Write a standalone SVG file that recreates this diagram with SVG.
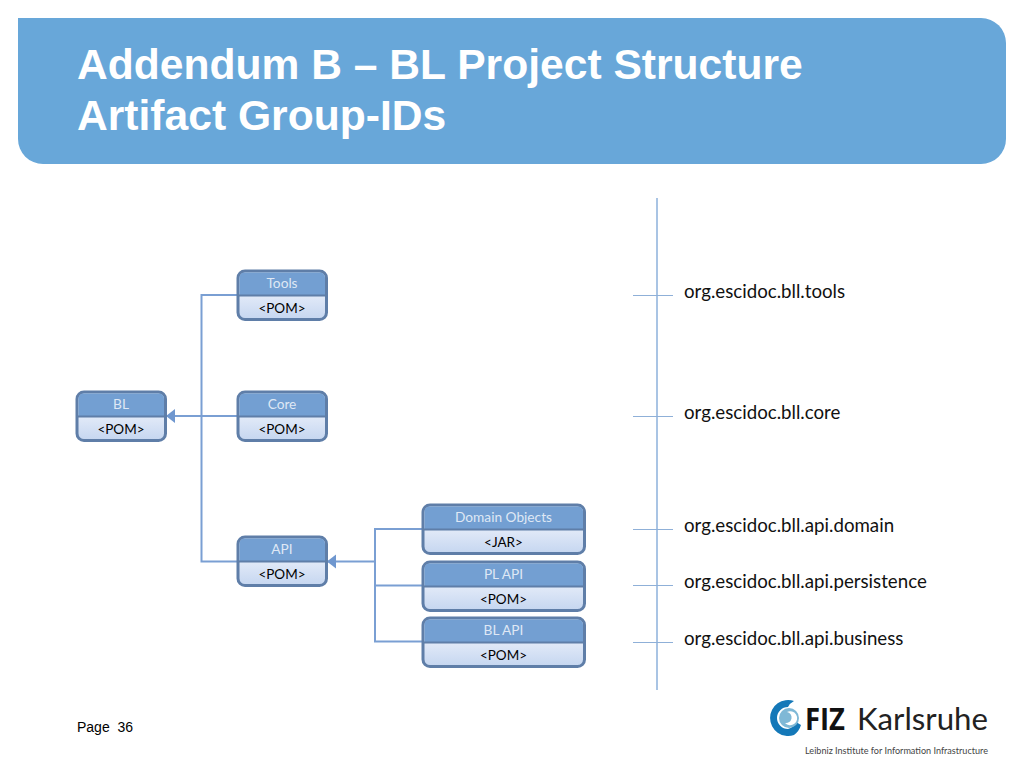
<svg xmlns="http://www.w3.org/2000/svg" width="1024" height="768" viewBox="0 0 1024 768">
<style>
.title{font:bold 42.600px "Liberation Sans",Arial,sans-serif;fill:#fff}
.h{font:13.700px Lato,sans-serif;fill:#dfe8f5;text-anchor:middle}
.b{font:13.500px Lato,sans-serif;fill:#000;text-anchor:middle}
.id{font:18.700px Lato,sans-serif;fill:#111}
.box{fill:url(#g);stroke:#5f7ea8;stroke-width:3}
.top{fill:#739fd2}
.div{stroke:#5f7ea8;stroke-width:2}
.c{fill:none;stroke:#7a9fd3;stroke-width:2}
.t{fill:none;stroke:#8fb0d8;stroke-width:1.200}
.v{fill:none;stroke:#a9c4e4;stroke-width:2}
</style>
<defs>
<linearGradient id="g" x1="0" y1="0" x2="0" y2="1"><stop offset="0.5" stop-color="#e2eaf8"/><stop offset="1" stop-color="#c5d6f0"/></linearGradient>
<marker id="a" markerUnits="userSpaceOnUse" markerWidth="10" markerHeight="16" refX="9" refY="8" orient="auto"><path d="M0 1L9 8L0 15z" fill="#6f97cf"/></marker>
</defs>
<path id="banner" d="M18 18H981a25 25 0 0 1 25 25V139a25 25 0 0 1-25 25H43a25 25 0 0 1-25-25z" fill="#68a7d9"/>
<text class="title" x="77" y="78.500">Addendum B – BL Project Structure</text>
<text class="title" x="77" y="129.500">Artifact Group-IDs</text>
<g id="connectors">
<path class="c" d="M237 295H201.500V561.500H237"/>
<path class="c" d="M237 416H166" marker-end="url(#a)"/>
<path class="c" d="M422 529H375V641.500H422M422 585.500H375"/>
<path class="c" d="M375 561.500H327" marker-end="url(#a)"/>
</g>
<g id="node-tools"><rect class="box" x="238" y="271" width="88.500" height="48.500" rx="7"/><path class="top" d="M239.500 295V277.500a5 5 0 0 1 5-5h75.500a5 5 0 0 1 5 5V295z"/><path class="div" d="M237 295.500H327"/><text class="h" x="282" y="288">Tools</text><text class="b" x="282" y="313">&lt;POM&gt;</text></g>
<g id="node-core"><rect class="box" x="238" y="392" width="88.500" height="48.500" rx="7"/><path class="top" d="M239.500 416V398.500a5 5 0 0 1 5-5h75.500a5 5 0 0 1 5 5V416z"/><path class="div" d="M237 416.500H327"/><text class="h" x="282" y="409">Core</text><text class="b" x="282" y="434">&lt;POM&gt;</text></g>
<g id="node-bl"><rect class="box" x="77" y="392" width="88.500" height="48.500" rx="7"/><path class="top" d="M78.500 416V398.500a5 5 0 0 1 5-5h75.500a5 5 0 0 1 5 5V416z"/><path class="div" d="M76 416.500H166"/><text class="h" x="121" y="409">BL</text><text class="b" x="121" y="434">&lt;POM&gt;</text></g>
<g id="node-api"><rect class="box" x="238" y="537" width="88.500" height="48.500" rx="7"/><path class="top" d="M239.500 561V543.500a5 5 0 0 1 5-5h75.500a5 5 0 0 1 5 5V561z"/><path class="div" d="M237 561.500H327"/><text class="h" x="282" y="554">API</text><text class="b" x="282" y="579">&lt;POM&gt;</text></g>
<g id="node-domain"><rect class="box" x="423" y="505" width="161.500" height="48.500" rx="7"/><path class="top" d="M424.500 529V511.500a5 5 0 0 1 5-5h148.500a5 5 0 0 1 5 5V529z"/><path class="div" d="M422 529.500H585"/><text class="h" x="503.500" y="522">Domain Objects</text><text class="b" x="503.500" y="547">&lt;JAR&gt;</text></g>
<g id="node-pl"><rect class="box" x="423" y="562" width="161.500" height="48.500" rx="7"/><path class="top" d="M424.500 586V568.500a5 5 0 0 1 5-5h148.500a5 5 0 0 1 5 5V586z"/><path class="div" d="M422 586.500H585"/><text class="h" x="503.500" y="579">PL API</text><text class="b" x="503.500" y="604">&lt;POM&gt;</text></g>
<g id="node-blapi"><rect class="box" x="423" y="618" width="161.500" height="48.500" rx="7"/><path class="top" d="M424.500 642V624.500a5 5 0 0 1 5-5h148.500a5 5 0 0 1 5 5V642z"/><path class="div" d="M422 642.500H585"/><text class="h" x="503.500" y="635">BL API</text><text class="b" x="503.500" y="660">&lt;POM&gt;</text></g>
<g id="timeline">
<path class="v" d="M657 198V690"/>
<path class="t" d="M633 295.500H673M633 416.500H673M633 529.500H673M633 585.500H673M633 642.500H673"/>
<text class="id" x="684" y="298">org.escidoc.bll.tools</text>
<text class="id" x="684" y="419">org.escidoc.bll.core</text>
<text class="id" x="684" y="532">org.escidoc.bll.api.domain</text>
<text class="id" x="684" y="588">org.escidoc.bll.api.persistence</text>
<text class="id" x="684" y="645">org.escidoc.bll.api.business</text>
</g>
<text x="77" y="732" style="font:14px 'Liberation Sans',Arial,sans-serif;white-space:pre" xml:space="preserve">Page  36</text>
<g id="logo">
<path d="M794 701A18 18 0 1 0 794 735A19 19 0 0 0 801 725L796 722A12 12 0 0 1 788 729A11 11 0 0 1 788 707A14 14 0 0 1 794 701z" fill="#1478b8"/>
<circle cx="789" cy="718" r="10" fill="#7fb8d6"/>
<path d="M787 712a7 7 0 1 1-2 11a5 5 0 1 0 2-11z" fill="#fff"/>
<text x="805" y="730" textLength="40" lengthAdjust="spacingAndGlyphs" style="font:bold 31px 'Open Sans',sans-serif" fill="#111">FIZ</text>
<text x="857" y="730" textLength="131" lengthAdjust="spacingAndGlyphs" style="font:31px Lato,sans-serif" fill="#222">Karlsruhe</text>
<text x="805" y="754" textLength="183" lengthAdjust="spacingAndGlyphs" style="font:9.500px Lato,sans-serif" fill="#444">Leibniz Institute for Information Infrastructure</text>
</g>
</svg>
